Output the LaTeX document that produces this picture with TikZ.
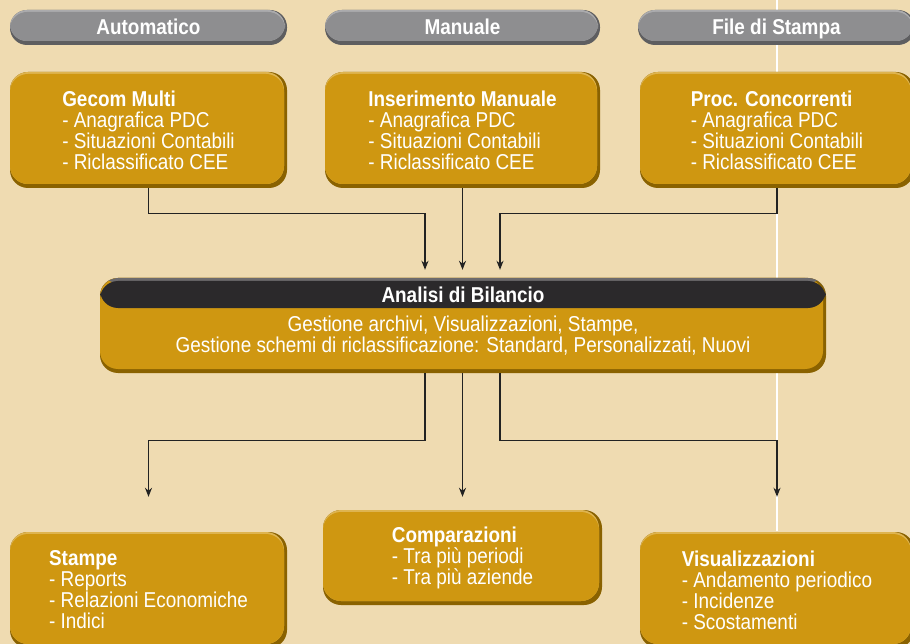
\documentclass[tikz,border=0pt]{standalone}
\usepackage{fontspec}
\setmainfont{Liberation Sans}[FakeStretch=0.88]
\usetikzlibrary{arrows.meta}

\definecolor{bgtan}{HTML}{EFDBB1}
\definecolor{gold}{HTML}{CF9711}
\definecolor{golddark}{HTML}{8A6200}
\definecolor{goldlight}{HTML}{DEB450}
\definecolor{tabgray}{HTML}{8E8E90}
\definecolor{tabdark}{HTML}{5E5E60}
\definecolor{tabhi}{HTML}{ABABAD}
\definecolor{headdark}{HTML}{2B292B}
\definecolor{headhi}{HTML}{6C6A6C}
\definecolor{wire}{HTML}{222222}

\newcommand\boxfont{\fontsize{21.5}{21}\selectfont}

\begin{document}
\begin{tikzpicture}[x=1pt, y=-1pt,
    tab/.style={minimum width=277pt, minimum height=35pt, inner sep=0pt, text height=18pt, text depth=4pt, rounded corners=17pt, fill=tabdark, text=white, font=\boxfont\bfseries,
      path picture={
        \fill[tabhi, rounded corners=17pt] ([yshift=4pt]path picture bounding box.south west) rectangle ([xshift=-2pt]path picture bounding box.north east);
        \fill[tabgray, rounded corners=17pt] ([yshift=4pt]path picture bounding box.south west) rectangle ([xshift=-2pt,yshift=-2pt]path picture bounding box.north east);
      }},
    box/.style={minimum width=277pt, minimum height=116pt, inner sep=0pt, rounded corners=18pt, fill=golddark, align=left, text=white, font=\boxfont,
      path picture={
        \fill[goldlight, rounded corners=18pt] ([yshift=4pt]path picture bounding box.south west) rectangle ([xshift=-3pt]path picture bounding box.north east);
        \fill[gold, rounded corners=18pt] ([yshift=4pt]path picture bounding box.south west) rectangle ([xshift=-3pt,yshift=-2pt]path picture bounding box.north east);
      }},
    hub/.style={minimum width=726pt, minimum height=95pt, inner sep=0pt, rounded corners=18pt, fill=golddark,
      path picture={
        \fill[gold, rounded corners=18pt] ([yshift=4pt]path picture bounding box.south west) rectangle ([xshift=-3pt]path picture bounding box.north east);
        \fill[headhi] (path picture bounding box.north west) rectangle ([yshift=-5pt]path picture bounding box.north east);
        \fill[headdark] ([yshift=-3pt]path picture bounding box.north west) rectangle ([yshift=-30pt]path picture bounding box.north east);
      }},
    conn/.style={draw=wire, line width=1.3pt, -{Stealth[length=9pt, width=7pt]}, shorten >=8pt}]

    % page and divider
    \fill[bgtan] (0,0) rectangle (910,644);
    \useasboundingbox (0,0) rectangle (910,644);
    \coordinate (divtop) at (777,0);
    \coordinate (divbot) at (777,531);
    \draw[white, line width=1.5pt] (divtop) -- (divbot);

    % sources
    \node[tab] (tabauto) at (148.5,27.5) {Automatico};
    \node[tab, minimum width=275pt] (tabman) at (462.5,27.5) {Manuale};
    \node[tab] (tabfile) at (776.5,27.5) {File di Stampa};

    \node[box] (gecom) at (148.5,130) {\textbf{Gecom Multi}\\- Anagrafica PDC\\- Situazioni Contabili\\- Riclassificato CEE};
    \node[box, minimum width=275pt] (manual) at (462.5,130) {\textbf{Inserimento Manuale}\\- Anagrafica PDC\\- Situazioni Contabili\\- Riclassificato CEE};
    \node[box, minimum width=274pt] (proc) at (777,130) {\textbf{Proc. Concorrenti}\\- Anagrafica PDC\\- Situazioni Contabili\\- Riclassificato CEE};

    % central block
    \node[hub] (bil) at (463,325.5) {};
    \node[text=white, font=\boxfont\bfseries] (biltitle) at (463,295) {Analisi di Bilancio};
    \node[text=white, font=\boxfont, align=center] (biltext) at (463,336) {Gestione archivi, Visualizzazioni, Stampe,\\Gestione schemi di riclassificazione: Standard, Personalizzati, Nuovi};

    % outputs
    \node[box] (stampe) at (148.5,590) {\textbf{Stampe}\\- Reports\\- Relazioni Economiche\\- Indici};
    \node[box, minimum width=279pt, minimum height=95pt] (compar) at (462.5,557.5) {\textbf{Comparazioni}\\- Tra più periodi\\- Tra più aziende};
    \node[box, minimum width=274pt] (visual) at (777,590) {\textbf{Visualizzazioni}\\- Andamento periodico\\- Incidenze\\- Scostamenti};

    \draw[conn] (gecom.south) -- ++(0,25) -| ([xshift=-38pt]bil.north);
    \draw[conn] (manual.south) -- (manual.south |- bil.north);
    \draw[conn] (proc.south) -- ++(0,25) -| ([xshift=37pt]bil.north);

    \draw[conn, shorten >=35pt] ([xshift=-38pt]bil.south) -- ++(0,67) -| (stampe.north);
    \draw[conn, shorten >=13pt] (bil.south -| compar.north) -- (compar.north);
    \draw[conn, shorten >=35pt] ([xshift=37pt]bil.south) -- ++(0,67) -| (visual.north);
  \end{tikzpicture}
\end{document}
